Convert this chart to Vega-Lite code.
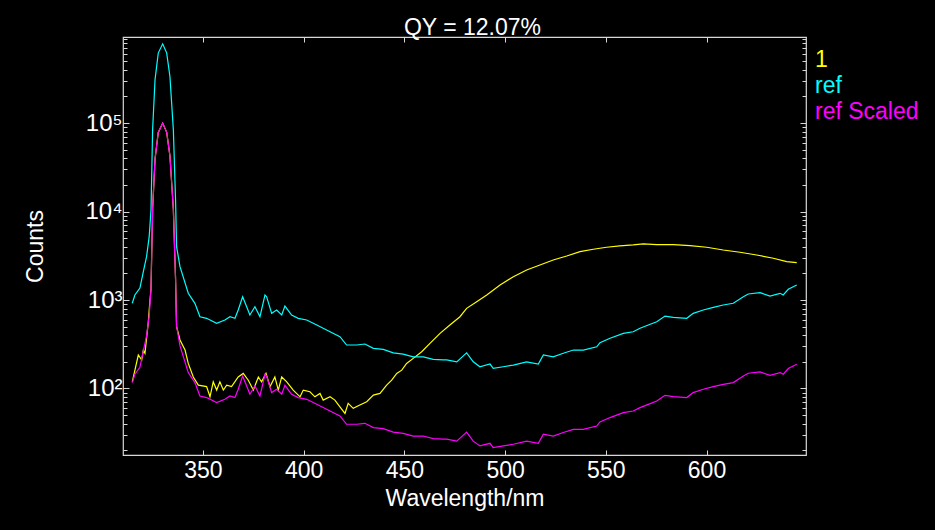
{
  "$schema": "https://vega.github.io/schema/vega-lite/v6.json",
  "width": 683,
  "height": 418,
  "autosize": {"type": "none"},
  "padding": {"left": 123, "top": 37, "right": 129, "bottom": 75},
  "background": "#000000",
  "title": {"text": "QY = 12.07%", "color": "#ffffff", "fontSize": 23, "font": "Liberation Sans", "fontWeight": "normal", "anchor": "middle", "baseline": "alphabetic", "offset": 3, "dx": 8, "dy": 24},
  "datasets": {
    "spectra": [
      {"series": "1", "wavelength": 314.9, "counts": 119},
      {"series": "1", "wavelength": 317.9, "counts": 239},
      {"series": "1", "wavelength": 319.6, "counts": 210},
      {"series": "1", "wavelength": 320.4, "counts": 272},
      {"series": "1", "wavelength": 321.2, "counts": 250},
      {"series": "1", "wavelength": 322.8, "counts": 545},
      {"series": "1", "wavelength": 323.7, "counts": 1000},
      {"series": "1", "wavelength": 324.2, "counts": 1323},
      {"series": "1", "wavelength": 325.0, "counts": 10640},
      {"series": "1", "wavelength": 326.2, "counts": 39100},
      {"series": "1", "wavelength": 327.8, "counts": 78500},
      {"series": "1", "wavelength": 330.0, "counts": 99950},
      {"series": "1", "wavelength": 332.0, "counts": 78500},
      {"series": "1", "wavelength": 333.6, "counts": 42670},
      {"series": "1", "wavelength": 335.3, "counts": 10640},
      {"series": "1", "wavelength": 336.4, "counts": 1718},
      {"series": "1", "wavelength": 336.9, "counts": 499},
      {"series": "1", "wavelength": 338.6, "counts": 353},
      {"series": "1", "wavelength": 341.1, "counts": 272},
      {"series": "1", "wavelength": 342.7, "counts": 192},
      {"series": "1", "wavelength": 345.2, "counts": 135},
      {"series": "1", "wavelength": 347.7, "counts": 109},
      {"series": "1", "wavelength": 351.8, "counts": 105},
      {"series": "1", "wavelength": 353.5, "counts": 80.5},
      {"series": "1", "wavelength": 355.1, "counts": 119},
      {"series": "1", "wavelength": 356.8, "counts": 95.9},
      {"series": "1", "wavelength": 358.4, "counts": 119},
      {"series": "1", "wavelength": 360.1, "counts": 95.9},
      {"series": "1", "wavelength": 361.8, "counts": 109},
      {"series": "1", "wavelength": 364.2, "counts": 105},
      {"series": "1", "wavelength": 367.5, "counts": 135},
      {"series": "1", "wavelength": 370.0, "counts": 148},
      {"series": "1", "wavelength": 372.5, "counts": 124},
      {"series": "1", "wavelength": 375.0, "counts": 95.9},
      {"series": "1", "wavelength": 377.5, "counts": 135},
      {"series": "1", "wavelength": 379.1, "counts": 119},
      {"series": "1", "wavelength": 381.3, "counts": 148},
      {"series": "1", "wavelength": 383.3, "counts": 105},
      {"series": "1", "wavelength": 385.7, "counts": 135},
      {"series": "1", "wavelength": 387.4, "counts": 95.9},
      {"series": "1", "wavelength": 389.1, "counts": 135},
      {"series": "1", "wavelength": 391.6, "counts": 119},
      {"series": "1", "wavelength": 394.8, "counts": 95.9},
      {"series": "1", "wavelength": 398.2, "counts": 80.5},
      {"series": "1", "wavelength": 399.8, "counts": 95.9},
      {"series": "1", "wavelength": 403.1, "counts": 91.8},
      {"series": "1", "wavelength": 405.6, "counts": 80.5},
      {"series": "1", "wavelength": 408.1, "counts": 88.0},
      {"series": "1", "wavelength": 409.7, "counts": 73.9},
      {"series": "1", "wavelength": 413.1, "counts": 80.5},
      {"series": "1", "wavelength": 415.5, "counts": 73.9},
      {"series": "1", "wavelength": 418.0, "counts": 62.1},
      {"series": "1", "wavelength": 420.5, "counts": 52.3},
      {"series": "1", "wavelength": 422.1, "counts": 67.8},
      {"series": "1", "wavelength": 424.6, "counts": 59.6},
      {"series": "1", "wavelength": 427.9, "counts": 64.9},
      {"series": "1", "wavelength": 431.3, "counts": 70.7},
      {"series": "1", "wavelength": 434.6, "counts": 84.2},
      {"series": "1", "wavelength": 437.9, "counts": 88.0},
      {"series": "1", "wavelength": 441.2, "counts": 109},
      {"series": "1", "wavelength": 443.7, "counts": 124},
      {"series": "1", "wavelength": 446.2, "counts": 148},
      {"series": "1", "wavelength": 448.7, "counts": 161},
      {"series": "1", "wavelength": 451.1, "counts": 192},
      {"series": "1", "wavelength": 454.4, "counts": 219},
      {"series": "1", "wavelength": 458.6, "counts": 260},
      {"series": "1", "wavelength": 462.7, "counts": 324},
      {"series": "1", "wavelength": 467.7, "counts": 420},
      {"series": "1", "wavelength": 472.6, "counts": 521},
      {"series": "1", "wavelength": 477.6, "counts": 647},
      {"series": "1", "wavelength": 480.9, "counts": 805},
      {"series": "1", "wavelength": 485.9, "counts": 957},
      {"series": "1", "wavelength": 490.9, "counts": 1140},
      {"series": "1", "wavelength": 497.5, "counts": 1478},
      {"series": "1", "wavelength": 504.1, "counts": 1834},
      {"series": "1", "wavelength": 510.7, "counts": 2184},
      {"series": "1", "wavelength": 517.3, "counts": 2488},
      {"series": "1", "wavelength": 523.9, "counts": 2835},
      {"series": "1", "wavelength": 530.6, "counts": 3146},
      {"series": "1", "wavelength": 537.2, "counts": 3518},
      {"series": "1", "wavelength": 543.8, "counts": 3746},
      {"series": "1", "wavelength": 550.4, "counts": 3946},
      {"series": "1", "wavelength": 557.0, "counts": 4082},
      {"series": "1", "wavelength": 563.6, "counts": 4190},
      {"series": "1", "wavelength": 568.6, "counts": 4300},
      {"series": "1", "wavelength": 575.3, "counts": 4222},
      {"series": "1", "wavelength": 583.5, "counts": 4222},
      {"series": "1", "wavelength": 591.8, "counts": 4114},
      {"series": "1", "wavelength": 600.1, "counts": 3946},
      {"series": "1", "wavelength": 608.3, "counts": 3678},
      {"series": "1", "wavelength": 616.6, "counts": 3464},
      {"series": "1", "wavelength": 624.9, "counts": 3228},
      {"series": "1", "wavelength": 633.2, "counts": 2963},
      {"series": "1", "wavelength": 639.8, "counts": 2712},
      {"series": "1", "wavelength": 644.8, "counts": 2642},

      {"series": "ref", "wavelength": 314.9, "counts": 918},
      {"series": "ref", "wavelength": 316.2, "counts": 1140},
      {"series": "ref", "wavelength": 318.7, "counts": 1367},
      {"series": "ref", "wavelength": 320.4, "counts": 2090},
      {"series": "ref", "wavelength": 322.0, "counts": 3090},
      {"series": "ref", "wavelength": 323.3, "counts": 5200},
      {"series": "ref", "wavelength": 324.2, "counts": 10420},
      {"series": "ref", "wavelength": 325.0, "counts": 83800},
      {"series": "ref", "wavelength": 326.2, "counts": 308000},
      {"series": "ref", "wavelength": 327.8, "counts": 618000},
      {"series": "ref", "wavelength": 330.0, "counts": 787000},
      {"series": "ref", "wavelength": 332.0, "counts": 618000},
      {"series": "ref", "wavelength": 333.6, "counts": 336000},
      {"series": "ref", "wavelength": 335.3, "counts": 83800},
      {"series": "ref", "wavelength": 336.4, "counts": 13530},
      {"series": "ref", "wavelength": 336.9, "counts": 4010},
      {"series": "ref", "wavelength": 338.6, "counts": 2382},
      {"series": "ref", "wavelength": 342.7, "counts": 1191},
      {"series": "ref", "wavelength": 346.0, "counts": 918},
      {"series": "ref", "wavelength": 348.5, "counts": 647},
      {"series": "ref", "wavelength": 351.8, "counts": 621},
      {"series": "ref", "wavelength": 356.8, "counts": 545},
      {"series": "ref", "wavelength": 360.9, "counts": 594},
      {"series": "ref", "wavelength": 363.4, "counts": 647},
      {"series": "ref", "wavelength": 365.9, "counts": 621},
      {"series": "ref", "wavelength": 367.5, "counts": 771},
      {"series": "ref", "wavelength": 369.7, "counts": 1090},
      {"series": "ref", "wavelength": 371.7, "counts": 840},
      {"series": "ref", "wavelength": 373.3, "counts": 677},
      {"series": "ref", "wavelength": 375.8, "counts": 840},
      {"series": "ref", "wavelength": 378.3, "counts": 647},
      {"series": "ref", "wavelength": 380.8, "counts": 1140},
      {"series": "ref", "wavelength": 381.6, "counts": 1090},
      {"series": "ref", "wavelength": 384.1, "counts": 707},
      {"series": "ref", "wavelength": 386.6, "counts": 771},
      {"series": "ref", "wavelength": 389.1, "counts": 677},
      {"series": "ref", "wavelength": 390.7, "counts": 855},
      {"series": "ref", "wavelength": 394.0, "counts": 677},
      {"series": "ref", "wavelength": 397.3, "counts": 621},
      {"series": "ref", "wavelength": 401.5, "counts": 594},
      {"series": "ref", "wavelength": 406.5, "counts": 521},
      {"series": "ref", "wavelength": 413.1, "counts": 438},
      {"series": "ref", "wavelength": 418.0, "counts": 385},
      {"series": "ref", "wavelength": 421.3, "counts": 310},
      {"series": "ref", "wavelength": 426.3, "counts": 310},
      {"series": "ref", "wavelength": 430.4, "counts": 318},
      {"series": "ref", "wavelength": 434.6, "counts": 284},
      {"series": "ref", "wavelength": 439.5, "counts": 277},
      {"series": "ref", "wavelength": 444.5, "counts": 253},
      {"series": "ref", "wavelength": 449.4, "counts": 245},
      {"series": "ref", "wavelength": 454.4, "counts": 228},
      {"series": "ref", "wavelength": 459.4, "counts": 228},
      {"series": "ref", "wavelength": 464.3, "counts": 213},
      {"series": "ref", "wavelength": 469.3, "counts": 210},
      {"series": "ref", "wavelength": 471.0, "counts": 210},
      {"series": "ref", "wavelength": 476.0, "counts": 200},
      {"series": "ref", "wavelength": 480.9, "counts": 253},
      {"series": "ref", "wavelength": 484.2, "counts": 200},
      {"series": "ref", "wavelength": 487.5, "counts": 176},
      {"series": "ref", "wavelength": 492.5, "counts": 189},
      {"series": "ref", "wavelength": 494.1, "counts": 169},
      {"series": "ref", "wavelength": 499.1, "counts": 176},
      {"series": "ref", "wavelength": 504.1, "counts": 184},
      {"series": "ref", "wavelength": 510.7, "counts": 200},
      {"series": "ref", "wavelength": 516.5, "counts": 189},
      {"series": "ref", "wavelength": 519.0, "counts": 239},
      {"series": "ref", "wavelength": 523.9, "counts": 228},
      {"series": "ref", "wavelength": 528.9, "counts": 250},
      {"series": "ref", "wavelength": 533.9, "counts": 272},
      {"series": "ref", "wavelength": 538.8, "counts": 272},
      {"series": "ref", "wavelength": 545.5, "counts": 296},
      {"series": "ref", "wavelength": 547.1, "counts": 329},
      {"series": "ref", "wavelength": 552.1, "counts": 369},
      {"series": "ref", "wavelength": 558.7, "counts": 420},
      {"series": "ref", "wavelength": 563.6, "counts": 438},
      {"series": "ref", "wavelength": 567.0, "counts": 479},
      {"series": "ref", "wavelength": 571.1, "counts": 521},
      {"series": "ref", "wavelength": 575.3, "counts": 568},
      {"series": "ref", "wavelength": 579.4, "counts": 659},
      {"series": "ref", "wavelength": 583.5, "counts": 637},
      {"series": "ref", "wavelength": 590.2, "counts": 621},
      {"series": "ref", "wavelength": 593.4, "counts": 707},
      {"series": "ref", "wavelength": 598.4, "counts": 771},
      {"series": "ref", "wavelength": 603.4, "counts": 827},
      {"series": "ref", "wavelength": 608.3, "counts": 878},
      {"series": "ref", "wavelength": 613.3, "counts": 918},
      {"series": "ref", "wavelength": 618.3, "counts": 1090},
      {"series": "ref", "wavelength": 620.7, "counts": 1170},
      {"series": "ref", "wavelength": 626.6, "counts": 1210},
      {"series": "ref", "wavelength": 631.5, "counts": 1110},
      {"series": "ref", "wavelength": 636.5, "counts": 1191},
      {"series": "ref", "wavelength": 638.1, "counts": 1140},
      {"series": "ref", "wavelength": 640.6, "counts": 1321},
      {"series": "ref", "wavelength": 644.8, "counts": 1478},

      {"series": "ref Scaled", "wavelength": 314.9, "counts": 116.6},
      {"series": "ref Scaled", "wavelength": 316.2, "counts": 144.8},
      {"series": "ref Scaled", "wavelength": 318.7, "counts": 173.6},
      {"series": "ref Scaled", "wavelength": 320.4, "counts": 265.4},
      {"series": "ref Scaled", "wavelength": 322.0, "counts": 392.4},
      {"series": "ref Scaled", "wavelength": 323.3, "counts": 660},
      {"series": "ref Scaled", "wavelength": 324.2, "counts": 1323},
      {"series": "ref Scaled", "wavelength": 325.0, "counts": 10640},
      {"series": "ref Scaled", "wavelength": 326.2, "counts": 39100},
      {"series": "ref Scaled", "wavelength": 327.8, "counts": 78500},
      {"series": "ref Scaled", "wavelength": 330.0, "counts": 99950},
      {"series": "ref Scaled", "wavelength": 332.0, "counts": 78500},
      {"series": "ref Scaled", "wavelength": 333.6, "counts": 42670},
      {"series": "ref Scaled", "wavelength": 335.3, "counts": 10640},
      {"series": "ref Scaled", "wavelength": 336.4, "counts": 1718},
      {"series": "ref Scaled", "wavelength": 336.9, "counts": 509},
      {"series": "ref Scaled", "wavelength": 338.6, "counts": 302.5},
      {"series": "ref Scaled", "wavelength": 342.7, "counts": 151.3},
      {"series": "ref Scaled", "wavelength": 346.0, "counts": 116.6},
      {"series": "ref Scaled", "wavelength": 348.5, "counts": 82.2},
      {"series": "ref Scaled", "wavelength": 351.8, "counts": 78.9},
      {"series": "ref Scaled", "wavelength": 356.8, "counts": 69.2},
      {"series": "ref Scaled", "wavelength": 360.9, "counts": 75.4},
      {"series": "ref Scaled", "wavelength": 363.4, "counts": 82.2},
      {"series": "ref Scaled", "wavelength": 365.9, "counts": 78.9},
      {"series": "ref Scaled", "wavelength": 367.5, "counts": 97.9},
      {"series": "ref Scaled", "wavelength": 369.7, "counts": 138.4},
      {"series": "ref Scaled", "wavelength": 371.7, "counts": 106.7},
      {"series": "ref Scaled", "wavelength": 373.3, "counts": 86.0},
      {"series": "ref Scaled", "wavelength": 375.8, "counts": 106.7},
      {"series": "ref Scaled", "wavelength": 378.3, "counts": 82.2},
      {"series": "ref Scaled", "wavelength": 380.8, "counts": 144.8},
      {"series": "ref Scaled", "wavelength": 381.6, "counts": 138.4},
      {"series": "ref Scaled", "wavelength": 384.1, "counts": 89.8},
      {"series": "ref Scaled", "wavelength": 386.6, "counts": 97.9},
      {"series": "ref Scaled", "wavelength": 389.1, "counts": 86.0},
      {"series": "ref Scaled", "wavelength": 390.7, "counts": 108.6},
      {"series": "ref Scaled", "wavelength": 394.0, "counts": 86.0},
      {"series": "ref Scaled", "wavelength": 397.3, "counts": 78.9},
      {"series": "ref Scaled", "wavelength": 401.5, "counts": 75.4},
      {"series": "ref Scaled", "wavelength": 406.5, "counts": 66.2},
      {"series": "ref Scaled", "wavelength": 413.1, "counts": 55.6},
      {"series": "ref Scaled", "wavelength": 418.0, "counts": 48.9},
      {"series": "ref Scaled", "wavelength": 421.3, "counts": 39.4},
      {"series": "ref Scaled", "wavelength": 426.3, "counts": 39.4},
      {"series": "ref Scaled", "wavelength": 430.4, "counts": 40.4},
      {"series": "ref Scaled", "wavelength": 434.6, "counts": 36.1},
      {"series": "ref Scaled", "wavelength": 439.5, "counts": 35.2},
      {"series": "ref Scaled", "wavelength": 444.5, "counts": 32.1},
      {"series": "ref Scaled", "wavelength": 449.4, "counts": 31.1},
      {"series": "ref Scaled", "wavelength": 454.4, "counts": 29.0},
      {"series": "ref Scaled", "wavelength": 459.4, "counts": 29.0},
      {"series": "ref Scaled", "wavelength": 464.3, "counts": 27.1},
      {"series": "ref Scaled", "wavelength": 469.3, "counts": 26.7},
      {"series": "ref Scaled", "wavelength": 471.0, "counts": 26.7},
      {"series": "ref Scaled", "wavelength": 476.0, "counts": 25.4},
      {"series": "ref Scaled", "wavelength": 480.9, "counts": 32.1},
      {"series": "ref Scaled", "wavelength": 484.2, "counts": 25.4},
      {"series": "ref Scaled", "wavelength": 487.5, "counts": 22.4},
      {"series": "ref Scaled", "wavelength": 492.5, "counts": 24.0},
      {"series": "ref Scaled", "wavelength": 494.1, "counts": 21.5},
      {"series": "ref Scaled", "wavelength": 499.1, "counts": 22.4},
      {"series": "ref Scaled", "wavelength": 504.1, "counts": 23.4},
      {"series": "ref Scaled", "wavelength": 510.7, "counts": 25.4},
      {"series": "ref Scaled", "wavelength": 516.5, "counts": 24.0},
      {"series": "ref Scaled", "wavelength": 519.0, "counts": 30.4},
      {"series": "ref Scaled", "wavelength": 523.9, "counts": 29.0},
      {"series": "ref Scaled", "wavelength": 528.9, "counts": 31.8},
      {"series": "ref Scaled", "wavelength": 533.9, "counts": 34.5},
      {"series": "ref Scaled", "wavelength": 538.8, "counts": 34.5},
      {"series": "ref Scaled", "wavelength": 545.5, "counts": 37.6},
      {"series": "ref Scaled", "wavelength": 547.1, "counts": 41.8},
      {"series": "ref Scaled", "wavelength": 552.1, "counts": 46.9},
      {"series": "ref Scaled", "wavelength": 558.7, "counts": 53.3},
      {"series": "ref Scaled", "wavelength": 563.6, "counts": 55.6},
      {"series": "ref Scaled", "wavelength": 567.0, "counts": 60.8},
      {"series": "ref Scaled", "wavelength": 571.1, "counts": 66.2},
      {"series": "ref Scaled", "wavelength": 575.3, "counts": 72.1},
      {"series": "ref Scaled", "wavelength": 579.4, "counts": 83.7},
      {"series": "ref Scaled", "wavelength": 583.5, "counts": 80.9},
      {"series": "ref Scaled", "wavelength": 590.2, "counts": 78.9},
      {"series": "ref Scaled", "wavelength": 593.4, "counts": 89.8},
      {"series": "ref Scaled", "wavelength": 598.4, "counts": 97.9},
      {"series": "ref Scaled", "wavelength": 603.4, "counts": 105.0},
      {"series": "ref Scaled", "wavelength": 608.3, "counts": 111.5},
      {"series": "ref Scaled", "wavelength": 613.3, "counts": 116.6},
      {"series": "ref Scaled", "wavelength": 618.3, "counts": 138.4},
      {"series": "ref Scaled", "wavelength": 620.7, "counts": 148.6},
      {"series": "ref Scaled", "wavelength": 626.6, "counts": 153.7},
      {"series": "ref Scaled", "wavelength": 631.5, "counts": 141.0},
      {"series": "ref Scaled", "wavelength": 636.5, "counts": 151.3},
      {"series": "ref Scaled", "wavelength": 638.1, "counts": 144.8},
      {"series": "ref Scaled", "wavelength": 640.6, "counts": 167.8},
      {"series": "ref Scaled", "wavelength": 644.8, "counts": 187.7}
    ]
  },
  "data": {"name": "spectra"},
  "layer": [
    {
      "mark": {"type": "line", "strokeWidth": 1.2, "clip": true},
      "encoding": {
        "x": {
          "field": "wavelength", "type": "quantitative",
          "scale": {"domain": [310.3, 649.4], "nice": false, "zero": false},
          "axis": {
            "orient": "bottom", "values": [350, 400, 450, 500, 550, 600],
            "title": "Wavelength/nm", "domain": false, "grid": false,
            "tickSize": -5, "tickColor": "#d8d8d8", "tickWidth": 1,
            "labelColor": "#ffffff", "labelFontSize": 23, "labelFont": "Liberation Sans",
            "labelPadding": 9, "labelBaseline": "top",
            "titleColor": "#ffffff", "titleFontSize": 23, "titleFont": "Liberation Sans", "titleFontWeight": "normal",
            "titleX": 341.5, "titleY": 50, "titleBaseline": "alphabetic", "titleAlign": "center"
          }
        },
        "y": {
          "field": "counts", "type": "quantitative",
          "scale": {"type": "log", "domain": [17.7, 940000], "nice": false},
          "axis": {
            "orient": "left",
            "values": [20, 30, 40, 50, 60, 70, 80, 90, 100, 200, 300, 400, 500, 600, 700, 800, 900, 1000, 2000, 3000, 4000, 5000, 6000, 7000, 8000, 9000, 10000, 20000, 30000, 40000, 50000, 60000, 70000, 80000, 90000, 100000, 200000, 300000, 400000, 500000, 600000, 700000, 800000, 900000],
            "labelExpr": "datum.value == 100 ? '10²' : datum.value == 1000 ? '10³' : datum.value == 10000 ? '10⁴' : datum.value == 100000 ? '10⁵' : ''",
            "title": "Counts", "domain": false, "grid": false,
            "tickSize": {"condition": {"test": "indexof([100, 1000, 10000, 100000], datum.value) >= 0", "value": -6}, "value": -4},
            "tickColor": "#d8d8d8", "tickWidth": 1,
            "labelColor": "#ffffff", "labelFontSize": 24, "labelFont": "Liberation Sans",
            "labelPadding": 7, "labelBaseline": "middle",
            "titleColor": "#ffffff", "titleFontSize": 23, "titleFont": "Liberation Sans", "titleFontWeight": "normal",
            "titleX": -88, "titleY": 209, "titleAngle": -90, "titleBaseline": "middle", "titleAlign": "center"
          }
        },
        "color": {
          "field": "series", "type": "nominal",
          "scale": {"domain": ["1", "ref", "ref Scaled"], "range": ["#ffff00", "#00ffff", "#ff00ff"]},
          "legend": {
            "orient": "none", "legendX": 669, "legendY": 11, "title": null,
            "symbolOpacity": 0, "symbolSize": 0, "symbolStrokeWidth": 0,
            "labelFontSize": 23, "labelFont": "Liberation Sans", "labelLimit": 0,
            "labelColor": {"expr": "datum.value == '1' ? '#ffff00' : datum.value == 'ref' ? '#00ffff' : '#ff00ff'"},
            "rowPadding": 2, "labelOffset": 0, "padding": 0
          }
        }
      }
    },
    {
      "mark": {"type": "point", "opacity": 0},
      "encoding": {
        "x": {
          "field": "wavelength", "type": "quantitative",
          "axis": {
            "orient": "top", "values": [350, 400, 450, 500, 550, 600], "labels": false,
            "title": null, "domain": false, "grid": false,
            "tickSize": -5, "tickColor": "#d8d8d8", "tickWidth": 1
          }
        },
        "y": {
          "field": "counts", "type": "quantitative",
          "axis": {
            "orient": "right",
            "values": [20, 30, 40, 50, 60, 70, 80, 90, 100, 200, 300, 400, 500, 600, 700, 800, 900, 1000, 2000, 3000, 4000, 5000, 6000, 7000, 8000, 9000, 10000, 20000, 30000, 40000, 50000, 60000, 70000, 80000, 90000, 100000, 200000, 300000, 400000, 500000, 600000, 700000, 800000, 900000],
            "labels": false, "title": null, "domain": false, "grid": false,
            "tickSize": {"condition": {"test": "indexof([100, 1000, 10000, 100000], datum.value) >= 0", "value": -6}, "value": -4},
            "tickColor": "#d8d8d8", "tickWidth": 1
          }
        }
      }
    }
  ],
  "resolve": {"axis": {"x": "independent", "y": "independent"}},
  "config": {
    "view": {"stroke": "#d8d8d8", "strokeWidth": 1.2, "fill": "#000000"},
    "font": "Liberation Sans"
  }
}
